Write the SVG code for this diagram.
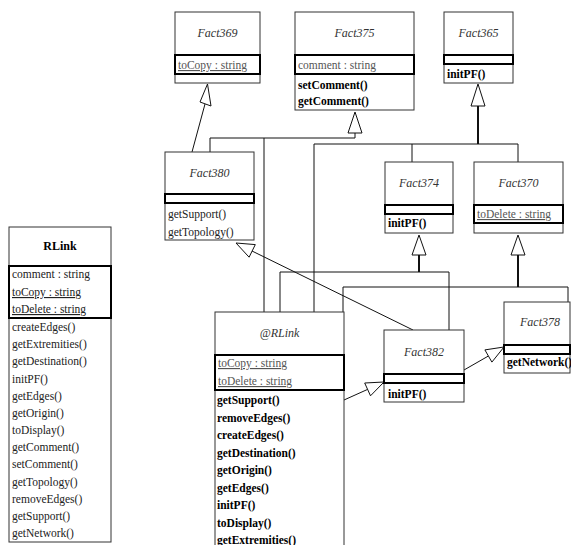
<svg xmlns="http://www.w3.org/2000/svg" width="571" height="545" viewBox="0 0 571 545">
<style>
.box{fill:#fff;stroke:#333;stroke-width:1}
.sec{fill:none;stroke:#000;stroke-width:2}
.ln{fill:none;stroke:#111;stroke-width:1}
.stem{fill:none;stroke:#111;stroke-width:2}
.tri{fill:#fff;stroke:#111;stroke-width:1}
.t{font-family:'Liberation Serif','DejaVu Serif',serif;font-size:11.5px;fill:#222}
.nm{font-style:italic;text-anchor:middle;fill:#333;font-size:12px}
.nb{font-weight:bold;text-anchor:middle;font-size:12px;fill:#000}
.at{fill:#555;text-decoration:underline}
.ag{fill:#555}
.mb{font-weight:bold;fill:#000}
</style>
<rect width="571" height="545" fill="#fff"/>
<g id="connectors">
  <line class="ln" x1="192" y1="152" x2="205" y2="104"/>
  <polygon class="tri" points="207.5,84 200,102 211,106"/>
  <polyline class="ln" points="355,133 355,138 210,138 210,152"/>
  <line class="ln" x1="264" y1="138" x2="264" y2="312"/>
  <polygon class="tri" points="355,112 348,133 362,133"/>
  <line class="stem" x1="478" y1="105" x2="478" y2="144"/>
  <polyline class="ln" points="314,312 314,144 518,144 518,162"/>
  <line class="ln" x1="412" y1="144" x2="412" y2="162"/>
  <polygon class="tri" points="478,84 471,106 485,106"/>
  <line class="stem" x1="419" y1="254" x2="419" y2="272"/>
  <polyline class="ln" points="280,312 280,272 449,272 449,330"/>
  <polygon class="tri" points="419,235 412,255 426,255"/>
  <line class="stem" x1="518" y1="254" x2="518" y2="287"/>
  <polyline class="ln" points="343,312 343,287 568,287 568,302"/>
  <polygon class="tri" points="518,235 511,255 525,255"/>
  <line class="ln" x1="413" y1="330" x2="252" y2="251"/>
  <polygon class="tri" points="236,243 255.3,244.6 249.1,257.2"/>
  <line class="ln" x1="344" y1="400" x2="367.6" y2="389.4"/>
  <polygon class="tri" points="384,382 370.5,395.8 364.7,383"/>
  <line class="ln" x1="464" y1="370" x2="488.4" y2="356"/>
  <polygon class="tri" points="504,347 491.9,362.1 484.9,349.9"/>
</g>
<g id="Fact369" class="t">
  <rect class="box" x="175" y="12" width="85" height="71"/>
  <rect class="sec" x="175" y="55" width="85" height="19"/>
  <text class="t nm" x="217.5" y="37">Fact369</text>
  <text class="t at" x="178" y="69">toCopy : string</text>
</g>
<g id="Fact375" class="t">
  <rect class="box" x="295" y="12" width="119" height="98"/>
  <rect class="sec" x="295" y="55" width="119" height="19"/>
  <text class="t nm" x="354.5" y="37">Fact375</text>
  <text class="t ag" x="298" y="69">comment : string</text>
  <text class="t mb" x="298" y="89">setComment()</text>
  <text class="t mb" x="298" y="105">getComment()</text>
</g>
<g id="Fact365" class="t">
  <rect class="box" x="444" y="12" width="69" height="71"/>
  <rect class="sec" x="444" y="55" width="69" height="9"/>
  <text class="t nm" x="478.5" y="37">Fact365</text>
  <text class="t mb" x="447" y="78">initPF()</text>
</g>
<g id="Fact380" class="t">
  <rect class="box" x="165" y="152" width="89" height="88"/>
  <rect class="sec" x="165" y="194" width="89" height="9"/>
  <text class="t nm" x="209.5" y="177">Fact380</text>
  <text class="t" x="168" y="218">getSupport()</text>
  <text class="t" x="168" y="236">getTopology()</text>
</g>
<g id="Fact374" class="t">
  <rect class="box" x="385" y="162" width="68" height="71"/>
  <rect class="sec" x="385" y="205" width="68" height="9"/>
  <text class="t nm" x="419" y="187">Fact374</text>
  <text class="t mb" x="388" y="227">initPF()</text>
</g>
<g id="Fact370" class="t">
  <rect class="box" x="474" y="162" width="89" height="71"/>
  <rect class="sec" x="474" y="205" width="89" height="18"/>
  <text class="t nm" x="518.5" y="187">Fact370</text>
  <text class="t at" x="477" y="218">toDelete : string</text>
</g>
<g id="Fact382" class="t">
  <rect class="box" x="384" y="330" width="80" height="72"/>
  <rect class="sec" x="384" y="374" width="80" height="9"/>
  <text class="t nm" x="424" y="356">Fact382</text>
  <text class="t mb" x="388" y="398">initPF()</text>
</g>
<g id="Fact378" class="t">
  <rect class="box" x="504" y="302" width="66" height="71"/>
  <rect class="sec" x="504" y="345" width="66" height="9"/>
  <text class="t nm" x="540" y="326">Fact378</text>
  <text class="t mb" x="507" y="366">getNetwork()</text>
</g>
<g id="AtRLink" class="t">
  <rect class="box" x="215" y="312" width="129" height="250"/>
  <rect class="sec" x="215" y="355" width="129" height="35"/>
  <text class="t nm" x="279.5" y="337">@RLink</text>
  <text class="t at" x="218" y="367">toCopy : string</text>
  <text class="t at" x="218" y="385">toDelete : string</text>
  <text class="t mb" x="217" y="404">getSupport()</text>
  <text class="t mb" x="217" y="421.5">removeEdges()</text>
  <text class="t mb" x="217" y="439">createEdges()</text>
  <text class="t mb" x="217" y="456.5">getDestination()</text>
  <text class="t mb" x="217" y="474">getOrigin()</text>
  <text class="t mb" x="217" y="491.5">getEdges()</text>
  <text class="t mb" x="217" y="509">initPF()</text>
  <text class="t mb" x="217" y="526.5">toDisplay()</text>
  <text class="t mb" x="217" y="544">getExtremities()</text>
</g>
<g id="RLink" class="t">
  <rect class="box" x="9" y="227" width="102" height="315"/>
  <rect class="sec" x="9" y="266" width="102" height="52"/>
  <text class="t nb" x="60" y="250">RLink</text>
  <text class="t" x="12" y="278">comment : string</text>
  <text class="t at" x="12" y="296" style="fill:#222">toCopy : string</text>
  <text class="t at" x="12" y="313" style="fill:#222">toDelete : string</text>
  <text class="t" x="12" y="331">createEdges()</text>
  <text class="t" x="12" y="348.2">getExtremities()</text>
  <text class="t" x="12" y="365.3">getDestination()</text>
  <text class="t" x="12" y="382.5">initPF()</text>
  <text class="t" x="12" y="399.7">getEdges()</text>
  <text class="t" x="12" y="416.9">getOrigin()</text>
  <text class="t" x="12" y="434">toDisplay()</text>
  <text class="t" x="12" y="451.2">getComment()</text>
  <text class="t" x="12" y="468.4">setComment()</text>
  <text class="t" x="12" y="485.5">getTopology()</text>
  <text class="t" x="12" y="502.7">removeEdges()</text>
  <text class="t" x="12" y="519.9">getSupport()</text>
  <text class="t" x="12" y="537">getNetwork()</text>
</g>
</svg>
